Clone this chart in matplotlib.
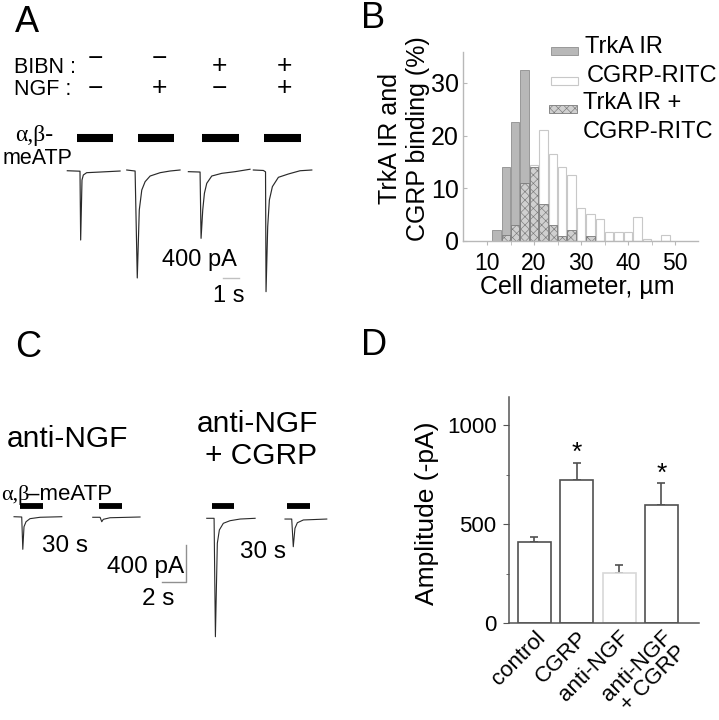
import matplotlib
matplotlib.use('Agg')
import matplotlib.pyplot as plt
from matplotlib.patches import Rectangle

plt.rcParams['font.family'] = ['Liberation Sans', 'DejaVu Sans']
plt.rcParams['hatch.linewidth'] = 0.45

# ---------------- data ----------------
# Panel A: four sweeps (time s, current pA), each relative to its own start
a_bibn = ['\u2212', '\u2212', '+', '+']
a_ngf = ['\u2212', '+', '\u2212', '+']
a_offsets = [4.03, 7.59, 11.28, 15.17]
a_t = [
    [0, 0.76, 0.80, 0.88, 0.96, 1.16, 1.96, 3.16],
    [0, 0.50, 0.63, 0.75, 0.90, 1.10, 1.40, 2.00, 2.59, 3.19],
    [0, 0.70, 0.76, 0.86, 0.96, 1.10, 1.40, 2.00, 2.80, 3.69],
    [0, 0.60, 0.73, 0.76, 0.86, 0.96, 1.14, 1.50, 2.10, 2.80, 3.50],
]
a_i = [
    [-8, -13, -756, -108, -54, -29, -22, -11],
    [0, -11, -1166, -432, -216, -126, -65, -29, -11, 0],
    [-18, -22, -738, -432, -252, -144, -65, -36, -18, 8],
    [0, -5, -20, -1314, -612, -324, -180, -79, -43, -8, 0],
]
a_app = [(0.58, 2.74), (0.68, 2.83), (0.82, 3.04), (0.64, 2.86)]

# Panel B: size histogram (%), 2-um bins
b_centers = list(range(12, 50, 2))
b_trka = [2, 14, 22.5, 32.5, 0, 0, 0, 0, 0, 0, 0, 0, 0, 0, 0, 0, 0, 0, 0]
b_cgrp = [0, 0, 0, 0, 14.5, 21, 16.5, 14, 12.5, 6.3, 5.1, 4.2, 1.7, 1.7, 1.7, 4.5, 0.3, 0, 1.1]
b_both = [0, 1.2, 3, 11, 14, 7, 3, 1, 2, 0, 1, 0, 0, 0, 0, 0, 0, 0, 0]

# Panel C: four sweeps
c_offsets = [1.17, 7.73, 17.23, 23.75]
c_t = [
    [0, 0.64, 0.73, 0.83, 1.00, 1.33, 2.17, 3.98],
    [0, 0.61, 0.75, 0.88, 1.44, 3.94],
    [0, 0.61, 0.72, 0.88, 1.05, 1.38, 1.94, 2.78, 4.03],
    [0, 0.56, 0.69, 0.83, 1.03, 1.53, 3.48],
]
c_i = [
    [3, 0, -349, -105, -51, -18, -3, 3],
    [-3, -3, -51, -25, -8, 0],
    [-14, -14, -1293, -284, -140, -68, -40, -22, -14],
    [-22, -22, -321, -122, -62, -32, -22],
]
c_app = [(0.50, 2.39), (0.55, 2.42), (0.47, 2.30), (0.19, 2.08)]

# Panel D
d_labels = ['control', 'CGRP', 'anti-NGF', 'anti-NGF\n+ CGRP']
d_mean = [410, 722, 251, 596]
d_sem = [25, 88, 44, 110]
d_sig = [False, True, False, True]

# ---------------- figure ----------------
W, H = 719, 720
fig = plt.figure(figsize=(W / 100, H / 100), dpi=100)


def fx(px):
    return px / W


def fy(py):
    return 1 - py / H


def ax_at(x0, y0, x1, y1):
    return fig.add_axes([fx(x0), fy(y1), (x1 - x0) / W, (y1 - y0) / H])


def txt(x, y, s, size, **kw):
    kw.setdefault('ha', 'left')
    kw.setdefault('va', 'baseline')
    return fig.text(fx(x), fy(y), s, fontsize=size, **kw)


SERIF = ['Liberation Serif', 'DejaVu Serif']

# panel letters
for L, (x, y) in zip('ABCD', [(15, 32), (361, 28), (15, 357), (361, 355)]):
    txt(x, y, L, 26)

# ---------------- Panel A ----------------
axa = ax_at(0, 120, 330, 310)
axa.set_xlim(0, 330 / 16.7)
axa.set_ylim(-(310 - 170) * 10.8, (170 - 120) * 10.8)
axa.axis('off')
for off, t, i, (s0, s1) in zip(a_offsets, a_t, a_i, a_app):
    axa.plot([off + v for v in t], i, color='#2a2a2a', lw=0.85)
    axa.plot([off + s0, off + s1], [346, 346], color='black', lw=5.8,
             solid_capstyle='butt')
axa.plot([13.33, 14.33], [-1163, -1163], color='#c0c0c0', lw=1)

txt(14, 73, 'BIBN :', 15.5)
txt(14, 95, 'NGF :', 15.5)
for xc, s1, s2 in zip([95, 159, 219, 284], a_bibn, a_ngf):
    txt(xc, 73 - (7 if s1 != '+' else 0), s1, 19, ha='center')
    txt(xc, 95 + (1 if s2 != '+' else 0), s2, 19, ha='center')
txt(15, 141, '\u03b1,\u03b2-', 17, family=SERIF)
txt(3, 164, 'meATP', 15.5)
txt(162, 266, '400 pA', 17)
txt(213, 302, '1 s', 17)

# ---------------- Panel B ----------------
axb = ax_at(463, 52, 698, 241)
axb.bar(b_centers, b_trka, width=1.8, color='#b8b8b8', edgecolor='#8e8e8e',
        lw=0.6, zorder=1)
axb.bar(b_centers, b_cgrp, width=1.8, color='white', edgecolor='#c8c8c8',
        lw=0.8, zorder=2)
axb.bar(b_centers, b_both, width=1.8, color='#d0d0d0', edgecolor='#7a7a7a',
        hatch='xxxx', lw=0.6, zorder=3)
axb.set_xlim(10 - 24 / 4.7, 10 + 211 / 4.7)
axb.set_ylim(0, 189 / 5.27)
for s in ['top', 'right']:
    axb.spines[s].set_visible(False)
for s in ['left', 'bottom']:
    axb.spines[s].set_color('#b8b8b8')
    axb.spines[s].set_linewidth(1)
    axb.spines[s].set_zorder(5)
axb.set_yticks([0, 10, 20, 30])
axb.set_xticks([10, 20, 30, 40, 50])
axb.set_xticks([15, 25, 35, 45], minor=True)
axb.tick_params(axis='y', direction='in', length=3, color='#b8b8b8',
                labelsize=18, pad=3)
axb.tick_params(axis='x', which='both', direction='out', length=3,
                color='#b8b8b8', labelsize=16.5, pad=5)

fig.text(fx(404), fy(139), 'TrkA IR and\nCGRP binding (%)', rotation=90,
         fontsize=18, ha='center', va='center', multialignment='center')
fig.text(fx(577), fy(287), 'Cell diameter, \u00b5m', fontsize=18,
         ha='center', va='center')

# legend (keys + labels)
fig.add_artist(Rectangle((fx(551), fy(55)), 27 / W, 8 / H,
                         transform=fig.transFigure, facecolor='#b8b8b8',
                         edgecolor='#8e8e8e', lw=0.6))
fig.add_artist(Rectangle((fx(551), fy(85)), 27 / W, 8 / H,
                         transform=fig.transFigure, facecolor='white',
                         edgecolor='#c8c8c8', lw=0.8))
fig.add_artist(Rectangle((fx(549), fy(113)), 28 / W, 8 / H,
                         transform=fig.transFigure, facecolor='#d0d0d0',
                         edgecolor='#7a7a7a', hatch='xxxx', lw=0.6))
txt(585, 47, 'TrkA IR', 17, va='center')
txt(587, 76, 'CGRP-RITC', 17, va='center')
txt(583, 103, 'TrkA IR +', 17, va='center')
txt(583, 132, 'CGRP-RITC', 17, va='center')

# ---------------- Panel C ----------------
axc = ax_at(0, 470, 340, 660)
axc.set_xlim(0, 340 / 12)
axc.set_ylim(-(660 - 517) * 10.8, (517 - 470) * 10.8)
axc.axis('off')
for off, t, i, (s0, s1) in zip(c_offsets, c_t, c_i, c_app):
    axc.plot([off + v for v in t], i, color='#2a2a2a', lw=0.8)
    axc.plot([off + s0, off + s1], [124, 124], color='black', lw=4.2,
             solid_capstyle='butt')
axc.plot([13.5, 15.5, 15.5], [-702, -702, -302], color='#909090', lw=1)

txt(7, 446.7, 'anti-NGF', 21.5)
txt(197, 431.7, 'anti-NGF', 21.5)
txt(205, 463.5, '+ CGRP', 21.5)
txt(1, 500, '\u03b1,\u03b2', 16, family=SERIF)
txt(27, 500, '\u2013meATP', 16)
txt(42, 552, '30 s', 17.5)
txt(240, 558, '30 s', 17.5)
txt(107, 573, '400 pA', 17.5)
txt(142, 605, '2 s', 17.5)

# ---------------- Panel D ----------------
axd = ax_at(509, 397, 699, 623)
xs = list(range(len(d_mean)))
edge = ['#505050', '#505050', '#d8d8d8', '#505050']
axd.bar(xs, d_mean, width=0.78, color='white', edgecolor=edge, lw=1.2,
        zorder=2)
axd.errorbar(xs, d_mean, yerr=[[0] * len(d_sem), d_sem], fmt='none',
             ecolor='#505050', elinewidth=1.2, capsize=3, capthick=1.2,
             zorder=1)
for x, m, e, sig in zip(xs, d_mean, d_sem, d_sig):
    if sig:
        axd.annotate('*', (x, m + e), xytext=(0, 2), textcoords='offset points',
                     ha='center', va='baseline', fontsize=19)
axd.set_xlim(-0.60, 3.89)
axd.set_ylim(0, 226 / 0.198)
for s in ['top', 'right']:
    axd.spines[s].set_visible(False)
for s in ['left', 'bottom']:
    axd.spines[s].set_color('#555555')
    axd.spines[s].set_linewidth(1.1)
axd.set_yticks([0, 500, 1000])
axd.set_yticks([250, 750], minor=True)
axd.tick_params(axis='y', which='major', length=4, color='#555555',
                labelsize=16, pad=5)
axd.tick_params(axis='y', which='minor', length=2.5, color='#555555')
axd.set_xticks(xs)
axd.set_xticklabels(d_labels, rotation=45, ha='right', va='top',
                    rotation_mode='anchor', fontsize=16, linespacing=0.95)
axd.tick_params(axis='x', length=0, pad=3)
fig.text(fx(427), fy(513), 'Amplitude (-pA)', rotation=90, fontsize=19,
         ha='center', va='center')

fig.savefig('out.png', dpi=100)
